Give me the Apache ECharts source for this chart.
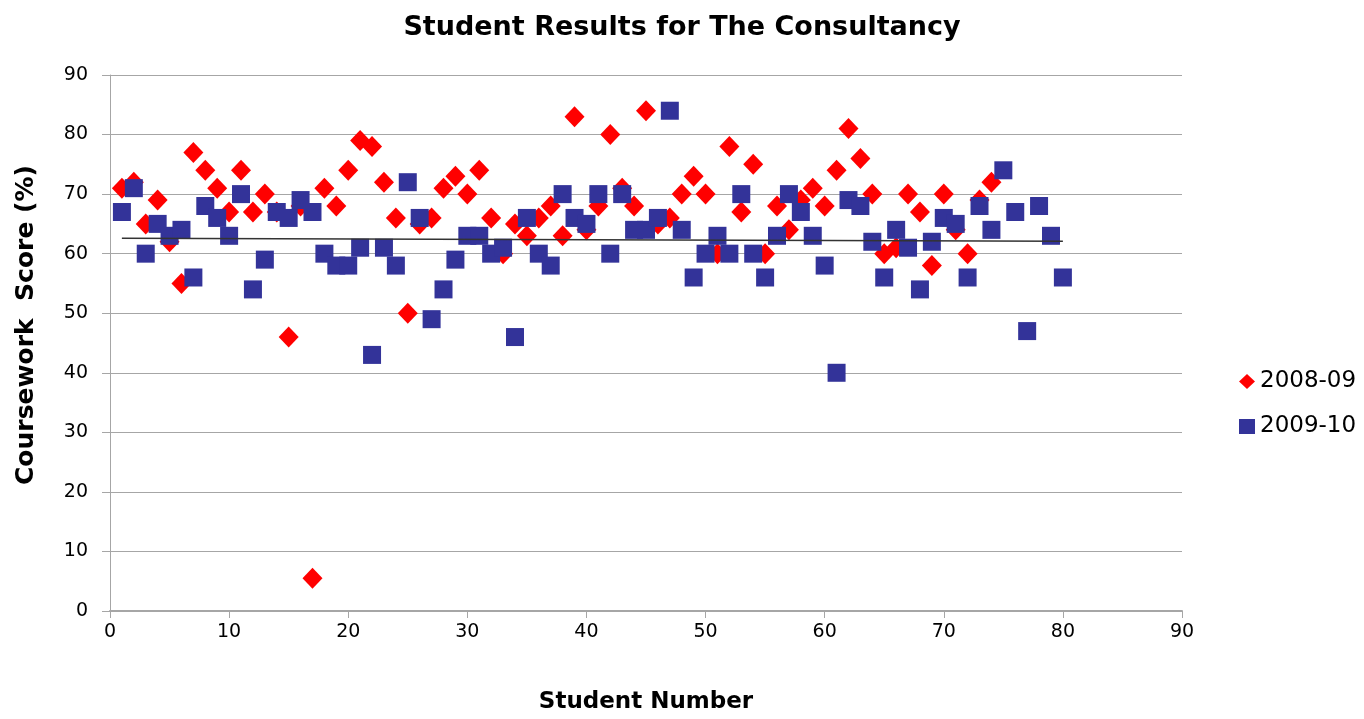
<!DOCTYPE html>
<html>
<head>
<meta charset="utf-8">
<script src="https://cdn.jsdelivr.net/npm/echarts@6/dist/echarts.min.js"></script>
<style>
html,body{margin:0;padding:0;background:#fff;}
#c{width:1364px;height:719px;}
</style>
</head>
<body>
<div id="c"></div>
<script>
const titleText = 'Student Results for The Consultancy';
const xName = 'Student Number';
const yName = 'Coursework  Score (%)';
const seriesNames = ['2008-09', '2009-10'];

// 2008-09 scores, students 1..74
const scores0809 = [71,72,65,69,62,55,77,74,71,67,74,67,70,67,46,68,5.5,71,68,74,
  79,78,72,66,50,65,66,71,73,70,74,66,60,65,63,66,68,63,83,64,
  68,80,71,68,84,65,66,70,73,70,60,78,67,75,60,68,64,69,71,68,
  74,81,76,70,60,61,70,67,58,70,64,60,69,72];
// 2009-10 scores, students 1..80
const scores0910 = [67,71,60,65,63,64,56,68,66,63,70,54,59,67,66,69,67,60,58,58,
  61,43,61,58,72,66,49,54,59,63,63,60,61,46,66,60,58,70,66,65,
  70,60,70,64,64,66,84,64,56,60,63,60,70,60,56,63,70,67,63,58,
  40,69,68,62,56,64,61,54,62,66,65,56,68,64,74,67,47,68,63,56];
// trend line end points [student, score]
const trendX = [1, 80];
const trendY = [62.6, 62.1];

const d0809 = scores0809.map((v, i) => [i + 1, v]);
const d0910 = scores0910.map((v, i) => [i + 1, v]);
const dTrend = trendX.map((x, i) => [x, trendY[i]]);

const chart = echarts.init(document.getElementById('c'), null, {renderer: 'canvas'});
const font = 'DejaVu Sans, Verdana, sans-serif';
chart.setOption({
  animation: false,
  backgroundColor: '#ffffff',
  title: {
    text: titleText,
    left: 'center',
    top: 9,
    textStyle: {fontFamily: font, fontSize: 27, fontWeight: 'bold', color: '#000'}
  },
  legend: {
    orient: 'vertical',
    left: 1234,
    top: 365,
    itemGap: 22,
    itemWidth: 16,
    itemHeight: 15,
    data: [
      {name: seriesNames[0], icon: 'diamond'},
      {name: seriesNames[1], icon: 'rect'}
    ],
    textStyle: {fontFamily: font, fontSize: 23, color: '#000'}
  },
  grid: {left: 110, right: 182, top: 75, bottom: 104, containLabel: false},
  xAxis: {
    type: 'value',
    min: 0, max: 90, interval: 10,
    name: xName,
    nameLocation: 'middle',
    nameGap: 80,
    nameTextStyle: {fontFamily: font, fontSize: 23, fontWeight: 'bold', color: '#000'},
    axisLine: {show: true, lineStyle: {color: '#a6a6a6', width: 2}},
    axisTick: {show: true, length: 7, lineStyle: {color: '#a6a6a6'}},
    axisLabel: {fontFamily: font, fontSize: 19, color: '#000', margin: 12},
    splitLine: {show: false}
  },
  yAxis: {
    type: 'value',
    min: 0, max: 90, interval: 10,
    name: yName,
    nameLocation: 'middle',
    nameGap: 71,
    nameTextStyle: {fontFamily: font, fontSize: 25, fontWeight: 'bold', color: '#000', padding: [0, 0, 0, 36]},
    axisLine: {show: true, lineStyle: {color: '#a6a6a6', width: 1}},
    axisTick: {show: true, length: 8, lineStyle: {color: '#a6a6a6'}},
    axisLabel: {fontFamily: font, fontSize: 19, color: '#000', margin: 22},
    splitLine: {show: true, lineStyle: {color: '#a6a6a6', width: 1}}
  },
  series: [
    {
      name: seriesNames[0],
      type: 'scatter',
      symbol: 'diamond',
      symbolSize: [20, 21],
      itemStyle: {color: '#ff0000', opacity: 1},
      data: d0809,
      z: 2
    },
    {
      name: seriesNames[1],
      type: 'scatter',
      symbol: 'rect',
      symbolSize: 18,
      itemStyle: {color: '#333399', opacity: 1},
      data: d0910,
      z: 3
    },
    {
      name: 'trend',
      type: 'line',
      symbol: 'none',
      lineStyle: {color: '#333333', width: 1.5},
      data: dTrend,
      z: 4,
      silent: true
    }
  ]
});
</script>
</body>
</html>
